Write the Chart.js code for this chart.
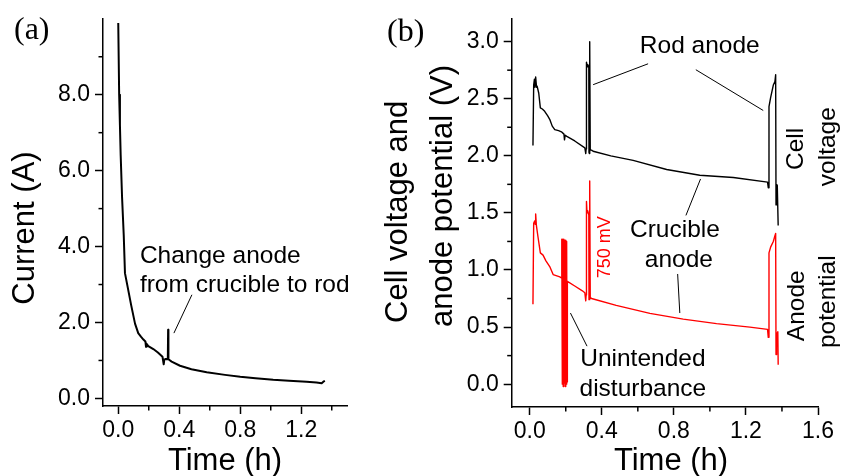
<!DOCTYPE html>
<html>
<head>
<meta charset="utf-8">
<script src="https://cdn.jsdelivr.net/npm/chart.js@4.4.0/dist/chart.umd.min.js"></script>
<style>
  html, body { margin: 0; padding: 0; background: #fff; }
  #wrap { position: relative; width: 841px; height: 476px; overflow: hidden; }
  #wrap canvas { position: absolute; top: 0; }
  #chartA { left: 0; }
  #chartB { left: 380px; }
</style>
</head>
<body>
<div id="wrap">
  <canvas id="chartA" width="380" height="476"></canvas>
  <canvas id="chartB" width="461" height="476"></canvas>
</div>
<script>
// (a) current during electrolysis
const timeA = [0, 0.006, 0.011, 0.016, 0.025, 0.036, 0.044, 0.059, 0.085,
  0.11, 0.131, 0.15, 0.165, 0.178, 0.182, 0.186, 0.197, 0.23, 0.26,
  0.29, 0.298, 0.302, 0.312, 0.325, 0.327, 0.329, 0.35, 0.405, 0.48,
  0.58, 0.7, 0.8, 0.9, 1.016, 1.12, 1.235, 1.3, 1.334, 1.345, 1.355];
const currentA = [9.89, 8.0, 7.2, 6.4, 5.3, 4.3, 3.3, 2.99, 2.45,
  1.97, 1.72, 1.62, 1.55, 1.5, 1.36, 1.44, 1.38, 1.3, 1.21,
  1.1, 0.9, 1.02, 1.04, 1.03, 1.81, 1.03, 0.97, 0.86, 0.77,
  0.69, 0.62, 0.57, 0.53, 0.49, 0.465, 0.44, 0.42, 0.40, 0.44, 0.46];

// (b) cell voltage (black) and anode potential (red)
const timeCell = [0.018, 0.022, 0.026, 0.029, 0.033, 0.038, 0.041, 0.05, 0.059, 0.07,
  0.083, 0.1, 0.111, 0.125, 0.139, 0.16, 0.176, 0.19, 0.193, 0.197,
  0.206, 0.25, 0.306, 0.311, 0.313, 0.315, 0.318, 0.322, 0.328, 0.329,
  0.331, 0.333, 0.336, 0.343, 0.352, 0.45, 0.574, 0.76, 0.944, 1.13,
  1.32, 1.324, 1.328, 1.337, 1.352, 1.361, 1.365, 1.367, 1.37, 1.374, 1.379];
const cellVoltage = [2.09, 2.62, 2.67, 2.6, 2.69, 2.6, 2.61, 2.55, 2.42, 2.41,
  2.39, 2.35, 2.32, 2.26, 2.23, 2.22, 2.21, 2.19, 2.14, 2.18,
  2.17, 2.13, 2.07, 2.02, 2.06, 2.82, 2.78, 2.8, 2.78, 2.03,
  2.02, 3.0, 2.05, 2.05, 2.04, 2.0, 1.96, 1.88, 1.83, 1.81,
  1.77, 1.72, 2.43, 2.51, 2.62, 2.65, 2.71, 1.57, 1.75, 1.74, 1.39];

const timeAnode = [0.018, 0.022, 0.028, 0.031, 0.033, 0.037, 0.045, 0.059, 0.074, 0.09,
  0.111, 0.13, 0.167, 0.176, 0.178, 0.181, 0.183, 0.186, 0.189, 0.192,
  0.195, 0.198, 0.2, 0.203, 0.205, 0.207, 0.209, 0.25, 0.29, 0.306,
  0.311, 0.313, 0.315, 0.318, 0.322, 0.328, 0.329, 0.331, 0.333, 0.336,
  0.343, 0.48, 0.667, 0.852, 1.037, 1.222, 1.32, 1.324, 1.328, 1.337,
  1.352, 1.361, 1.365, 1.367, 1.37, 1.374, 1.377, 1.379];
const anodePotential = [0.7, 1.41, 1.43, 1.4, 1.49, 1.39, 1.3, 1.15, 1.13, 1.08,
  1.03, 0.96, 0.94, 0.93, 1.27, 0.0, 1.27, -0.02, 1.27, 0.01,
  1.26, -0.02, 1.26, 0.0, 1.25, 0.02, 0.9, 0.86, 0.82, 0.8,
  0.73, 0.78, 1.6, 1.5, 1.52, 1.48, 0.74, 0.74, 1.78, 0.76,
  0.75, 0.69, 0.62, 0.57, 0.53, 0.5, 0.48, 0.41, 1.15, 1.2,
  1.25, 1.3, 1.32, 0.26, 0.45, 0.42, 0.46, 0.17];

// tick values
const xTicksA = [0, 0.4, 0.8, 1.2];
const xMinorA = [0.2, 0.6, 1.0, 1.4];
const yTicksA = [0, 2, 4, 6, 8];
const yMinorA = [1, 3, 5, 7, 9];
const xTicksB = [0, 0.4, 0.8, 1.2, 1.6];
const xMinorB = [0.2, 0.6, 1.0, 1.4];
const yTicksB = [0, 0.5, 1.0, 1.5, 2.0, 2.5, 3.0];
const yMinorB = [0.25, 0.75, 1.25, 1.75, 2.25, 2.75];

const SANS = '"Liberation Sans", Arial, sans-serif';
const SERIF = '"Liberation Serif", "Times New Roman", serif';
const NOTE = '24.5px ' + SANS;
Chart.defaults.font.family = SANS;

const toPoints = (xs, ys) => xs.map((x, i) => ({ x, y: ys[i] }));

function axis(min, max, ticks, size, isX) {
  return {
    type: 'linear',
    min, max,
    afterBuildTicks: s => { s.ticks = ticks.map(v => ({ value: v })); },
    afterFit: s => { if (isX) s.height = size; else s.width = size; },
    grid: { drawOnChartArea: false, drawTicks: true, tickLength: 8, tickWidth: 1.5, tickColor: '#000' },
    border: { display: true, color: '#000', width: 1.5 },
    ticks: {
      color: '#000',
      font: { size: 23 },
      padding: isX ? 3 : 5,
      maxRotation: 0,
      autoSkip: false,
      callback: v => v.toFixed(1)
    }
  };
}

// minor ticks, leader lines and text labels
const annotate = {
  id: 'annotate',
  afterDraw(chart, args, opts) {
    const ctx = chart.ctx;
    const { x, y } = chart.scales;
    ctx.save();
    ctx.strokeStyle = '#000';
    ctx.lineWidth = 1.5;
    (opts.minorX || []).forEach(v => {
      const px = x.getPixelForValue(v);
      ctx.beginPath(); ctx.moveTo(px, x.top); ctx.lineTo(px, x.top + 4.5); ctx.stroke();
    });
    (opts.minorY || []).forEach(v => {
      const py = y.getPixelForValue(v);
      ctx.beginPath(); ctx.moveTo(y.right, py); ctx.lineTo(y.right - 4.5, py); ctx.stroke();
    });

    ctx.lineWidth = 1;
    (opts.lines || []).forEach(l => {
      ctx.beginPath();
      ctx.moveTo(x.getPixelForValue(l[0]), y.getPixelForValue(l[1]));
      ctx.lineTo(x.getPixelForValue(l[2]), y.getPixelForValue(l[3]));
      ctx.stroke();
    });

    (opts.texts || []).forEach(t => {
      const px = t.px != null ? t.px : x.getPixelForValue(t.x);
      const py = t.py != null ? t.py : y.getPixelForValue(t.y);
      ctx.save();
      ctx.translate(px, py);
      if (t.rot) ctx.rotate(-Math.PI / 2);
      ctx.font = t.font || NOTE;
      ctx.fillStyle = t.color || '#000';
      ctx.textAlign = t.align || 'center';
      ctx.textBaseline = t.base || 'middle';
      ctx.fillText(t.text, 0, 0);
      ctx.restore();
    });
    ctx.restore();
  }
};

new Chart(document.getElementById('chartA'), {
  type: 'line',
  data: {
    datasets: [{
      data: toPoints(timeA, currentA),
      borderColor: '#000',
      borderWidth: 2,
      borderJoinStyle: 'round',
      pointRadius: 0,
      tension: 0
    }]
  },
  options: {
    responsive: false,
    animation: false,
    layout: { padding: { left: 0, right: 33, top: 14, bottom: 0 } },
    scales: {
      x: axis(-0.1, 1.5, xTicksA, 70, true),
      y: axis(-0.2, 10, yTicksA, 103, false)
    },
    plugins: {
      legend: { display: false },
      tooltip: { enabled: false },
      annotate: {
        minorX: xMinorA,
        minorY: yMinorA,
        lines: [[0.483, 2.73, 0.365, 1.72]],
        texts: [
          { text: 'Change anode', x: 0.142, y: 3.75, align: 'left' },
          { text: 'from crucible to rod', x: 0.142, y: 2.97, align: 'left' },
          { text: '(a)', px: 14, py: 39, align: 'left', base: 'alphabetic', font: '32px ' + SERIF },
          { text: 'Time (h)', px: 225, py: 470, base: 'alphabetic', font: '31px ' + SANS },
          { text: 'Current (A)', px: 34, py: 228, rot: true, base: 'alphabetic', font: '31px ' + SANS }
        ]
      }
    }
  },
  plugins: [annotate]
});

new Chart(document.getElementById('chartB'), {
  type: 'line',
  data: {
    datasets: [{
      label: 'Cell voltage',
      data: toPoints(timeCell, cellVoltage),
      borderColor: '#000',
      borderWidth: 1.4,
      borderJoinStyle: 'round',
      pointRadius: 0,
      tension: 0
    }, {
      label: 'Anode potential',
      data: toPoints(timeAnode, anodePotential),
      borderColor: '#ff0000',
      borderWidth: 1.4,
      borderJoinStyle: 'round',
      pointRadius: 0,
      tension: 0
    }]
  },
  options: {
    responsive: false,
    animation: false,
    layout: { padding: { left: 0, right: 23, top: 17, bottom: 0 } },
    scales: {
      x: axis(-0.1, 1.6, xTicksB, 69, true),
      y: axis(-0.2, 3.2, yTicksB, 131.7, false)
    },
    plugins: {
      legend: { display: false },
      tooltip: { enabled: false },
      annotate: {
        minorX: xMinorB,
        minorY: yMinorB,
        lines: [
          [0.657, 2.806, 0.352, 2.623],
          [0.922, 2.754, 1.296, 2.397],
          [0.867, 1.478, 0.948, 1.797],
          [0.821, 0.965, 0.833, 0.623],
          [0.318, 0.333, 0.226, 0.623]
        ],
        texts: [
          { text: 'Rod anode', x: 0.944, y: 2.96 },
          { text: 'Crucible', x: 0.806, y: 1.348 },
          { text: 'anode', x: 0.828, y: 1.087 },
          { text: 'Unintended', x: 0.628, y: 0.217 },
          { text: 'disturbance', x: 0.628, y: -0.043 },
          { text: '750 mV', x: 0.417, y: 1.2, rot: true, color: '#ff0000', font: '18px ' + SANS },
          { text: 'Cell', x: 1.478, y: 2.06, rot: true },
          { text: 'voltage', x: 1.656, y: 2.08, rot: true },
          { text: 'Anode', x: 1.483, y: 0.687, rot: true },
          { text: 'potential', x: 1.656, y: 0.722, rot: true },
          { text: '(b)', px: 7, py: 41, align: 'left', base: 'alphabetic', font: '32px ' + SERIF },
          { text: 'Time (h)', px: 291, py: 470, base: 'alphabetic', font: '31px ' + SANS },
          { text: 'Cell voltage and', px: 27, py: 323, rot: true, align: 'left', base: 'alphabetic', font: '31px ' + SANS },
          { text: 'anode potential (V)', px: 72, py: 327, rot: true, align: 'left', base: 'alphabetic', font: '31px ' + SANS }
        ]
      }
    }
  },
  plugins: [annotate]
});
</script>
</body>
</html>
